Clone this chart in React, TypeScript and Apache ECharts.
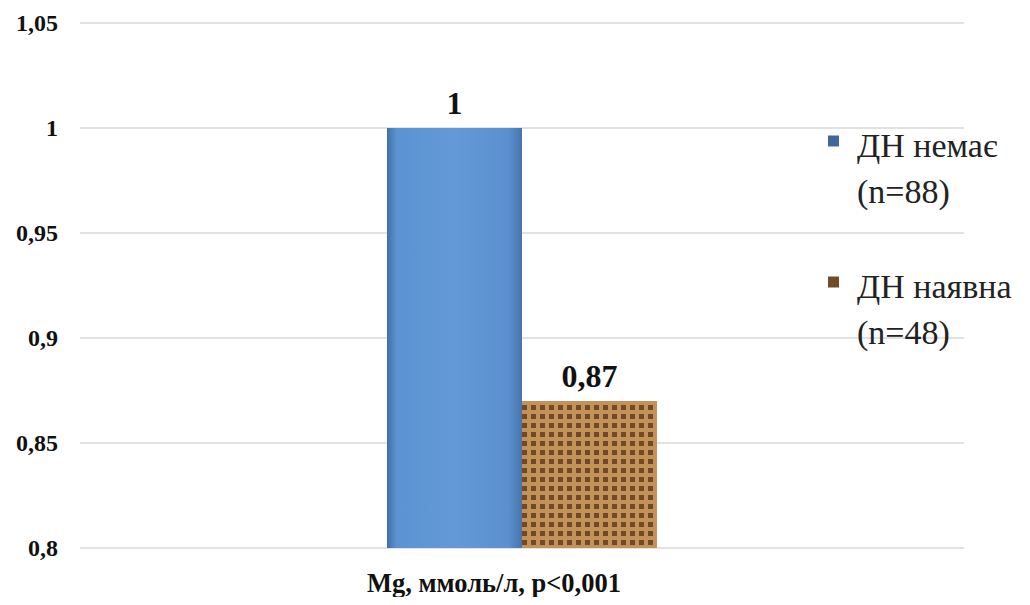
import React, { useEffect, useRef } from "react";
import * as echarts from "echarts";

const categories = ["Mg, ммоль/л, p<0,001"];
const seriesNames = ["ДН немає\n(n=88)", "ДН наявна\n(n=48)"];
const noDnValues = [1];
const dnValues = [0.87];
const yTicks = { min: 0.8, max: 1.05, interval: 0.05 };

const fmt = (v: number) => String(Math.round(v * 100) / 100).replace(".", ",");

export default function App() {
  const ref = useRef<HTMLDivElement>(null);
  useEffect(() => {
    if (!ref.current) return;
    const chart = echarts.init(ref.current, undefined, { renderer: "svg" });
    const serif = "Liberation Serif";
    const blue = new echarts.graphic.LinearGradient(0, 0, 1, 0, [
      { offset: 0, color: "#3f6fa6" },
      { offset: 0.07, color: "#5b93d2" },
      { offset: 0.5, color: "#6399d6" },
      { offset: 0.9, color: "#5a90ce" },
      { offset: 1, color: "#4675ac" },
    ]);
    const labelStyle = {
      show: true,
      position: "top",
      distance: 9,
      fontFamily: serif,
      fontWeight: "bold",
      fontSize: 32,
      color: "#111",
      formatter: (p: any) => fmt(p.value),
    };
    chart.setOption({
      animation: false,
      grid: { left: 80, right: 66, top: 23, bottom: 57 },
      xAxis: {
        type: "category",
        data: categories,
        axisLine: { show: false },
        axisTick: { show: false },
        axisLabel: {
          margin: 21,
          fontFamily: serif,
          fontWeight: "bold",
          fontSize: 26.5,
          color: "#111",
          padding: [0, 56, 0, 0],
        },
      },
      yAxis: {
        type: "value",
        min: yTicks.min,
        max: yTicks.max,
        interval: yTicks.interval,
        axisLine: { show: false },
        axisTick: { show: false },
        splitLine: { lineStyle: { color: "#d9d9d9", width: 1.5 } },
        axisLabel: {
          margin: 22,
          fontFamily: serif,
          fontWeight: "bold",
          fontSize: 24,
          color: "#111",
          formatter: (v: number) => fmt(v),
        },
      },
      legend: {
        orient: "vertical",
        left: 828,
        top: 78,
        padding: 0,
        itemGap: 10.5,
        itemWidth: 37,
        itemHeight: 11,
        icon: "path://M0,0h10v10h-10z",
        formatter: (name: string) => {
          const [a, b] = name.split("\n");
          return `{e| }\n{a|${a}}\n{a|${b}}`;
        },
        textStyle: {
          fontFamily: serif,
          fontSize: 34,
          color: "#222",
          rich: {
            e: { fontFamily: serif, fontSize: 34, lineHeight: 55 },
            a: { fontFamily: serif, fontSize: 34, lineHeight: 46, color: "#222" },
          },
        },
        data: [
          { name: seriesNames[0], itemStyle: { color: "#3e699b" } },
          { name: seriesNames[1], itemStyle: { color: "#6f4b2c", decal: "none" } },
        ],
      },
      series: [
        {
          name: seriesNames[0],
          type: "bar",
          data: noDnValues,
          barWidth: 135,
          barGap: "0%",
          itemStyle: { color: blue },
          label: labelStyle,
        },
        {
          name: seriesNames[1],
          type: "bar",
          data: dnValues,
          barWidth: 135,
          itemStyle: {
            color: "#c3925a",
            decal: {
              symbol: "rect",
              symbolSize: 1,
              color: "rgba(92,56,24,0.8)",
              dashArrayX: [4.5, 4],
              dashArrayY: [5, 3.5],
              rotation: 0,
            },
          },
          label: labelStyle,
        },
      ],
    });
    return () => chart.dispose();
  }, []);
  return <div ref={ref} style={{ width: 1030, height: 605, margin: -8 }} />;
}
